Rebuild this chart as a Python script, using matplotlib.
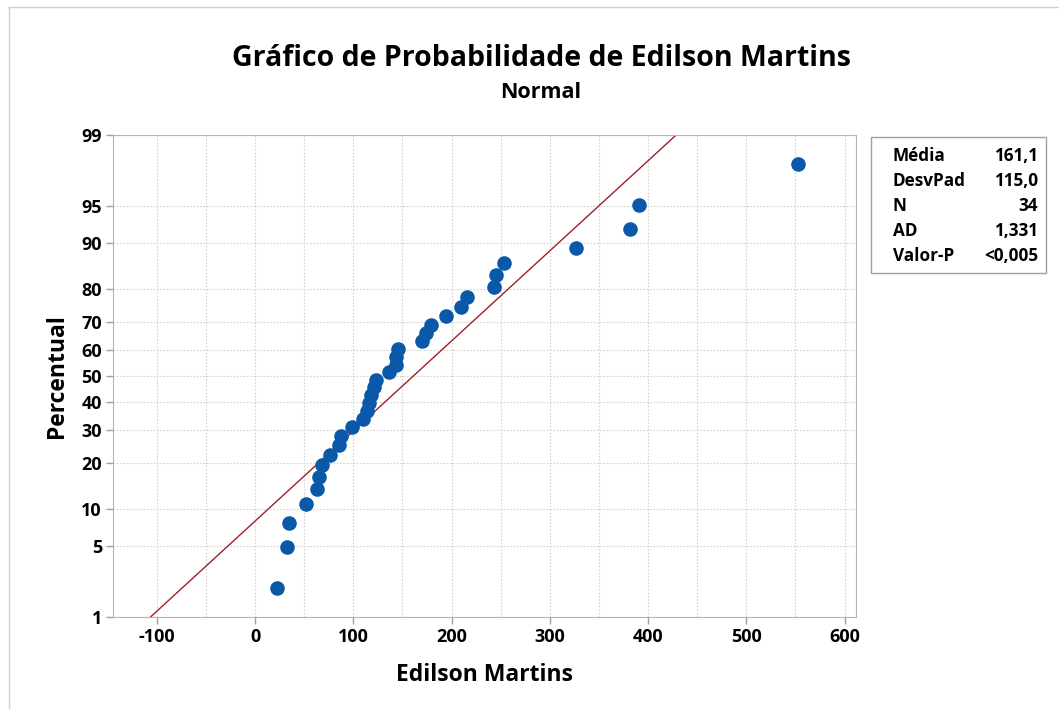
from statistics import NormalDist

import matplotlib.pyplot as plt
import matplotlib.lines as mlines

# Valores ordenados
valores = [
    22.0, 33.0, 34.6, 52.0, 63.0, 64.8, 68.6, 76.0, 85.2, 87.2,
    99.0, 110.0, 114.0, 116.4, 118.5, 120.8, 123.0, 136.4, 143.5, 143.6,
    145.6, 170.4, 173.7, 179.6, 194.8, 209.4, 215.8, 243.7, 245.3, 253.2,
    326.5, 381.2, 390.6, 552.8,
]
media = 161.1
desvpad = 115.0
estatisticas = [
    ("Média", "161,1"),
    ("DesvPad", "115,0"),
    ("N", "34"),
    ("AD", "1,331"),
    ("Valor-P", "<0,005"),
]
percentis_ticks = [1, 5, 10, 20, 30, 40, 50, 60, 70, 80, 90, 95, 99]
x_ticks = [-100, 0, 100, 200, 300, 400, 500, 600]

plt.rcParams["font.family"] = ["Open Sans", "DejaVu Sans"]

normal = NormalDist()
n = len(valores)
posicoes = [(i + 1 - 0.3) / (n + 0.4) for i in range(n)]
z_pontos = [normal.inv_cdf(p) for p in posicoes]

z_min = normal.inv_cdf(0.01)
z_max = normal.inv_cdf(0.99)

figure = plt.figure(figsize=(10.59, 7.09), dpi=100)
axis = figure.add_axes([113 / 1059, 1 - 617 / 709, 743 / 1059, 482 / 709])

# Grade pontilhada
for x in range(-100, 601, 50):
    axis.axvline(x, color="#d2d2d2", lw=0.8, ls=(0, (1.5, 1.5)), zorder=0)
for p in percentis_ticks:
    axis.axhline(normal.inv_cdf(p / 100), color="#d2d2d2", lw=0.8,
                 ls=(0, (1.5, 1.5)), zorder=0)

# Linha ajustada
z_linha = [z_min, z_max]
x_linha = [media + desvpad * z for z in z_linha]
axis.plot(x_linha, z_linha, color="#a31f24", lw=1.0, zorder=2)

axis.scatter(valores, z_pontos, s=110, color="#0a58a8", zorder=3,
             linewidths=0)

axis.set_xlim(-144.6, 611.7)
axis.set_ylim(z_min, z_max)
axis.set_xticks(x_ticks)
axis.set_xticklabels([str(x) for x in x_ticks])
axis.set_yticks([normal.inv_cdf(p / 100) for p in percentis_ticks])
axis.set_yticklabels([str(p) for p in percentis_ticks])
axis.tick_params(axis="both", labelsize=13, color="#a0a0a0", length=5,
                 width=1, pad=3)
for label in axis.get_xticklabels() + axis.get_yticklabels():
    label.set_fontweight("bold")
for spine in axis.spines.values():
    spine.set_color("#b4b4b4")

axis.set_xlabel("Edilson Martins", fontsize=16.5, fontweight="bold",
                labelpad=12)
axis.set_ylabel("Percentual", fontsize=16.5, fontweight="bold",
                labelpad=9)

figure.text(541 / 1059, 1 - 58 / 709,
            "Gráfico de Probabilidade de Edilson Martins",
            ha="center", va="center", fontsize=20.5, fontweight="bold")
figure.text(541 / 1059, 1 - 92 / 709, "Normal", ha="center", va="center",
            fontsize=15.5, fontweight="bold")

# Caixa de estatísticas
caixa = plt.Rectangle((871 / 1059, 1 - 273 / 709), 175 / 1059, 136 / 709,
                      transform=figure.transFigure, fill=False,
                      edgecolor="#a0a0a0", lw=1)
figure.add_artist(caixa)
for i, (rotulo, valor) in enumerate(estatisticas):
    y = 1 - (156 + i * 25) / 709
    figure.text(893 / 1059, y, rotulo, ha="left", va="center",
                fontsize=12.3, fontweight="bold")
    figure.text(1038 / 1059, y, valor, ha="right", va="center",
                fontsize=12.3, fontweight="bold")

# Moldura externa
figure.add_artist(mlines.Line2D([9 / 1059, 9 / 1059], [0, 1 - 7 / 709],
                                transform=figure.transFigure,
                                color="#d0d0d0", lw=1))
figure.add_artist(mlines.Line2D([9 / 1059, 1], [1 - 7 / 709, 1 - 7 / 709],
                                transform=figure.transFigure,
                                color="#d0d0d0", lw=1))

figure.savefig("out.png", dpi=100)
plt.close(figure)
